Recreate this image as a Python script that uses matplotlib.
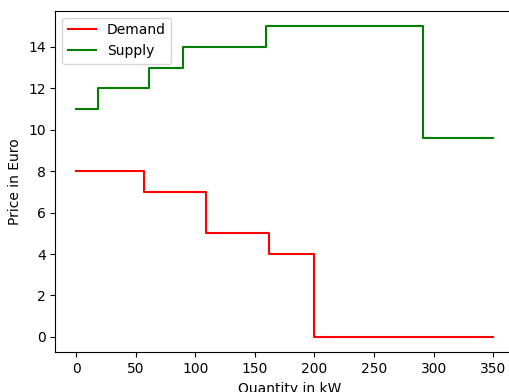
import matplotlib
matplotlib.use("Agg")
import matplotlib.pyplot as plt

# Demand curve (step, post)
demand_q = [0, 57, 109, 162, 200, 350]
demand_p = [8, 7, 5, 4, 0, 0]

# Supply curve (step, post)
supply_q = [0, 18, 61, 90, 159, 291, 350]
supply_p = [11, 12, 13, 14, 15, 9.6, 9.6]

fig = plt.figure(figsize=(5.1, 3.92), dpi=100)
# axes run past the right edge, as in the cropped original
ax = fig.add_axes([0.1085, 0.101, 0.92, 0.872])

ax.step(demand_q, demand_p, where="post", color="red", label="Demand")
ax.step(supply_q, supply_p, where="post", color="green", label="Supply")

ax.set_xlim(-17.5, 376.3)
ax.spines["right"].set_visible(False)  # cut off in the original
ax.set_xlabel("Quantity in kW")
ax.set_ylabel("Price in Euro")
ax.legend(loc="upper left")

fig.savefig("out.png", dpi=100)
